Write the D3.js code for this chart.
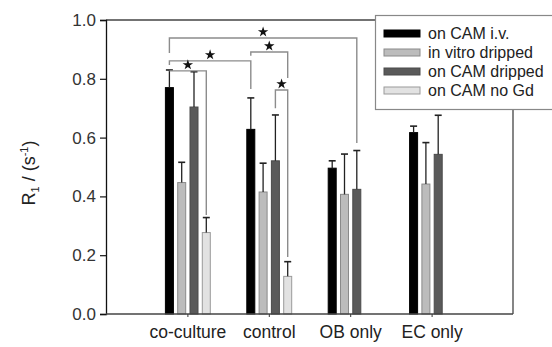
<!DOCTYPE html>
<html><head><meta charset="utf-8">
<script src="https://cdn.jsdelivr.net/npm/d3@7/dist/d3.min.js"></script>
<style>html,body{margin:0;padding:0;background:#fff}svg{display:block}</style>
</head><body><div id="chart"></div>
<script>
const categories = ["co-culture", "control", "OB only", "EC only"];
const seriesNames = ["on CAM i.v.", "in vitro dripped", "on CAM dripped", "on CAM no Gd"];
const seriesColors = ["#000000", "#bcbcbc", "#5a5a5a", "#e2e2e2"];
const seriesStroke = ["#000000", "#8a8a8a", "#4a4a4a", "#9a9a9a"];
// values[series][category], null = missing
const meanIV      = [0.770, 0.628, 0.496, 0.617];
const meanVitro   = [0.447, 0.415, 0.407, 0.442];
const meanDripped = [0.704, 0.521, 0.424, 0.543];
const meanNoGd    = [0.277, 0.128, null, null];
const errIV       = [0.060, 0.107, 0.025, 0.022];
const errVitro    = [0.069, 0.098, 0.137, 0.141];
const errDripped  = [0.120, 0.156, 0.132, 0.133];
const errNoGd     = [0.051, 0.050, null, null];
const yTicks = [0.0, 0.2, 0.4, 0.6, 0.8, 1.0];
// significance brackets: [cat1, series1, cat2, series2, barHeight, leftLegBottom, rightLegBottom]
const brackets = [
  [0, 0, 2, 2, 0.939, 0.888, 0.582],
  [0, 0, 1, 0, 0.861, 0.847, 0.765],
  [0, 0, 0, 3, 0.827, 0.827, 0.337],
  [1, 0, 1, 3, 0.891, 0.878, 0.803],
  [1, 2, 1, 3, 0.762, 0.700, 0.194]
];

const means = [meanIV, meanVitro, meanDripped, meanNoGd];
const errs = [errIV, errVitro, errDripped, errNoGd];

const W = 552, H = 347;
const m = {left: 106, right: 39, top: 20, bottom: 33};
const svg = d3.select("#chart").append("svg").attr("width", W).attr("height", H);
const font = "'Liberation Sans', Arial, sans-serif";

const x = d3.scaleLinear().domain([0, 5]).range([m.left, W - m.right]);
const y = d3.scaleLinear().domain([0, 1]).range([H - m.bottom, m.top]);
const barW = 8, step = 12.3;
const barX = (c, s) => x(c + 1) - 22 + s * step;
const barC = (c, s) => barX(c, s) + barW / 2;

// frame (top and right)
svg.append("line").attr("x1", x(0)).attr("x2", x(5)).attr("y1", y(1)).attr("y2", y(1))
  .attr("stroke", "#444").attr("stroke-width", 1.3);
svg.append("line").attr("x1", x(5)).attr("x2", x(5)).attr("y1", y(1)).attr("y2", y(0))
  .attr("stroke", "#444").attr("stroke-width", 1.3);

// bars
const g = svg.append("g");
means.forEach((arr, s) => {
  arr.forEach((v, c) => {
    if (v == null) return;
    g.append("rect").attr("x", barX(c, s)).attr("y", y(v)).attr("width", barW)
      .attr("height", y(0) - y(v)).attr("fill", seriesColors[s])
      .attr("stroke", seriesStroke[s]).attr("stroke-width", 1);
    const e = errs[s][c];
    const cx = barC(c, s);
    g.append("line").attr("x1", cx).attr("x2", cx).attr("y1", y(v)).attr("y2", y(v + e))
      .attr("stroke", "#222").attr("stroke-width", 1.3);
    g.append("line").attr("x1", cx - 3.5).attr("x2", cx + 3.5).attr("y1", y(v + e)).attr("y2", y(v + e))
      .attr("stroke", "#222").attr("stroke-width", 1.6);
  });
});

// axes
const yAxis = d3.axisLeft(y).tickValues(yTicks).tickFormat(d3.format(".1f")).tickSize(6).tickPadding(4);
const ya = svg.append("g").attr("transform", `translate(${x(0)},0)`).call(yAxis);
ya.select(".domain").attr("stroke", "#111").attr("stroke-width", 1.3);
ya.selectAll(".tick line").attr("stroke", "#111").attr("stroke-width", 1.2);
ya.selectAll("text").attr("font-family", font).attr("font-size", 17).attr("fill", "#333");

const xAxis = d3.axisBottom(x).tickValues([1, 2, 3, 4]).tickFormat(d => categories[d - 1]).tickSize(3).tickPadding(9);
const xa = svg.append("g").attr("transform", `translate(0,${y(0)})`).call(xAxis);
xa.select(".domain").attr("d", `M${x(0)},0H${x(5)}`).attr("stroke", "#444").attr("stroke-width", 1.3);
xa.selectAll(".tick line").attr("stroke", "#333");
xa.selectAll("text").attr("font-family", font).attr("font-size", 17.5).attr("fill", "#222");

// y title
const yt = svg.append("text").attr("transform", `translate(35,${(y(0) + y(1)) / 2 + 6}) rotate(-90)`)
  .attr("text-anchor", "middle").attr("font-family", font).attr("font-size", 18).attr("fill", "#222");
yt.append("tspan").text("R");
yt.append("tspan").attr("font-size", 11).attr("dy", 4).text("1");
yt.append("tspan").attr("dy", -4).text(" / (s");
yt.append("tspan").attr("font-size", 11).attr("dy", -7).text("-1");
yt.append("tspan").attr("dy", 7).text(")");

// brackets
const bg = svg.append("g");
const star = d3.symbol(d3.symbolStar).size(34);
brackets.forEach(([c1, s1, c2, s2, h, l1, l2]) => {
  const x1 = barC(c1, s1), x2 = barC(c2, s2);
  bg.append("path").attr("d", `M${x1},${y(l1)}V${y(h)}H${x2}V${y(l2)}`)
    .attr("fill", "none").attr("stroke", "#8c8c8c").attr("stroke-width", 1.4);
  bg.append("path").attr("d", star())
    .attr("transform", `translate(${(x1 + x2) / 2},${y(h) - 6})`).attr("fill", "#111");
});

// legend
const lg = svg.append("g");
lg.append("rect").attr("x", 375.5).attr("y", 15.5).attr("width", 190).attr("height", 94)
  .attr("fill", "#fff").attr("stroke", "#888").attr("stroke-width", 1.2);
seriesNames.forEach((n, i) => {
  const cy = 33.5 + i * 19;
  lg.append("rect").attr("x", 384).attr("y", cy - 3.5).attr("width", 36).attr("height", 7)
    .attr("fill", seriesColors[i]).attr("stroke", seriesStroke[i]).attr("stroke-width", 1);
  lg.append("text").attr("x", 428).attr("y", cy + 5.5).attr("font-family", font)
    .attr("font-size", 16).attr("fill", "#222").text(n);
});
</script></body></html>
